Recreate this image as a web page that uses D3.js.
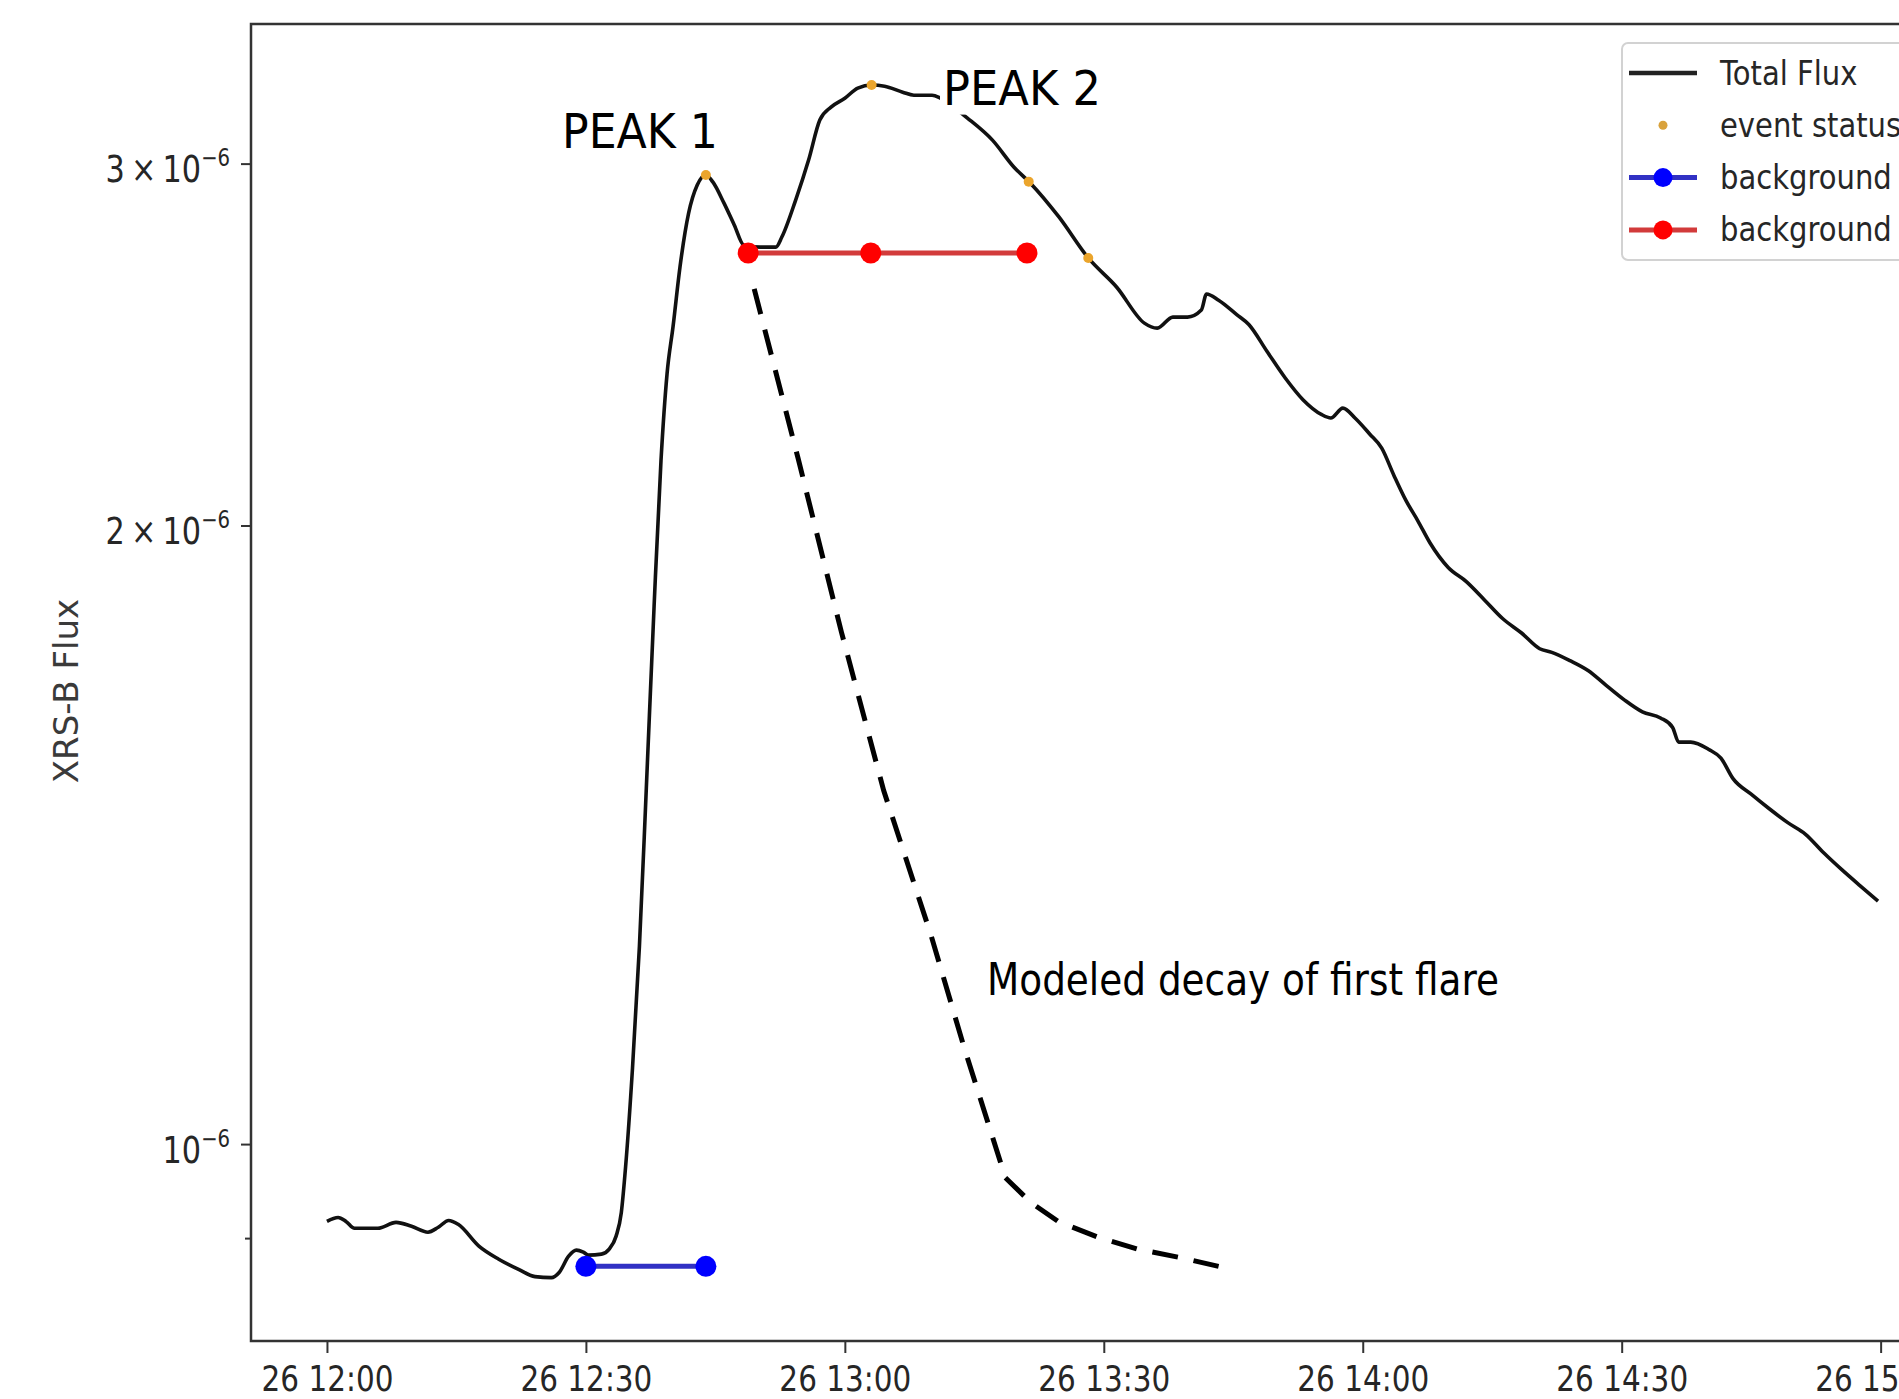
<!DOCTYPE html>
<html>
<head>
<meta charset="utf-8">
<script src="https://cdn.jsdelivr.net/npm/d3@7"></script>
<style>
body { margin: 0; background: #fff; }
svg { display: block; font-family: "DejaVu Sans", sans-serif; }
</style>
</head>
<body>
<svg id="chart" width="1899" height="1399"></svg>
<script>
// minutes after 26 12:00, flux in units of 1e-6
const fluxMinutes = [0, 1.3, 2.2, 3.2, 5.9, 8.0, 9.8, 11.7, 12.9, 14.1, 15.2, 17.6, 19.9, 22.2, 24.1, 26.0, 26.9, 28.0, 28.9, 29.7,
    30.3, 31.8, 32.7, 33.5, 34.1, 34.6, 35.4, 36.2, 37.0, 37.9, 38.7, 39.4, 40.1, 40.9, 41.9, 42.9, 43.9, 44.7, 46.0, 47.2,
    48.3, 50.2, 52.0, 52.7, 54.3, 55.8, 57.1, 58.4, 60.0, 61.5, 63.1, 64.6, 66.7, 68.0, 70.1, 71.1, 74.2, 77.1, 79.6, 81.5,
    84.8, 88.2, 91.5, 94.7, 96.2, 98.0, 99.7, 101.3, 101.9, 103.3, 105.4, 106.8, 108.9, 111.0, 113.1, 115.2, 116.3, 117.7, 119.1, 120.8,
    122.2, 123.6, 125.0, 126.4, 127.8, 129.9, 132.0, 134.1, 136.2, 138.4, 140.5, 141.9, 144.0, 146.1, 148.2, 150.3, 152.4, 154.5, 155.9, 156.6,
    158.0, 160.1, 161.5, 162.9, 165.0, 167.1, 169.2, 171.3, 173.4, 175.5, 177.6, 179.7];
const fluxValues = [0.917, 0.921, 0.917, 0.910, 0.910, 0.916, 0.912, 0.906, 0.911, 0.918, 0.914, 0.892, 0.879, 0.869, 0.862, 0.861, 0.866, 0.882, 0.888, 0.886,
    0.883, 0.884, 0.889, 0.902, 0.926, 0.975, 1.089, 1.248, 1.490, 1.827, 2.151, 2.37, 2.50, 2.672, 2.838, 2.929, 2.962, 2.939, 2.870, 2.800,
    2.738, 2.732, 2.732, 2.763, 2.880, 3.012, 3.150, 3.196, 3.228, 3.265, 3.276, 3.272, 3.250, 3.239, 3.239, 3.228, 3.157, 3.080, 2.988, 2.935,
    2.826, 2.699, 2.612, 2.509, 2.495, 2.526, 2.526, 2.546, 2.592, 2.574, 2.533, 2.505, 2.431, 2.360, 2.302, 2.265, 2.256, 2.281, 2.256, 2.216,
    2.181, 2.116, 2.057, 2.010, 1.961, 1.908, 1.878, 1.840, 1.802, 1.773, 1.742, 1.735, 1.719, 1.700, 1.672, 1.645, 1.623, 1.612, 1.595, 1.569,
    1.569, 1.556, 1.541, 1.506, 1.480, 1.456, 1.434, 1.415, 1.386, 1.360, 1.336, 1.313];

const eventMinutes = [43.9, 63.1, 81.3, 88.2];
const eventValues = [2.962, 3.276, 2.94, 2.699];

const bgBlueMinutes = [30.0, 43.9];
const bgBlueValues = [0.872, 0.872];
const bgRedMinutes = [48.8, 63.0, 81.1];
const bgRedValues = [2.714, 2.714, 2.714];

const decayMinutes = [49.5, 54.6, 59.6, 64.5, 70.0, 73.8, 78.6, 81.5, 84.7, 89.3, 93.9, 98.6, 103.3];
const decayValues = [2.607, 2.155, 1.775, 1.486, 1.263, 1.115, 0.963, 0.937, 0.917, 0.901, 0.889, 0.881, 0.872];

const xTickMinutes = [0, 30, 60, 90, 120, 150, 180];
const yTickValues = [0.9, 1, 2, 3];
const yTickMantissas = ["", "10", "2\u2009\u00d7\u200910", "3\u2009\u00d7\u200910"];
const legendLabels = ["Total Flux", "event status", "background", "background"];

const svg = d3.select("#chart");
const plot = { left: 251, top: 24, right: 1954, bottom: 1341 };
const textColor = "#262626";

const startTime = new Date(2020, 0, 26, 12, 0, 0);
const toTime = minutes => new Date(startTime.getTime() + minutes * 60000);
const toPoints = (minutes, values) => minutes.map((m, i) => [toTime(m), values[i] * 1e-6]);

const x = d3.scaleTime()
    .domain([toTime(-8.8), toTime(188.5)])
    .range([plot.left, plot.right]);
const y = d3.scaleLog()
    .domain([0.802e-6, 3.508e-6])
    .range([plot.bottom, plot.top]);

svg.append("defs").append("clipPath").attr("id", "plot-clip")
    .append("rect")
    .attr("x", plot.left).attr("y", plot.top)
    .attr("width", plot.right - plot.left).attr("height", plot.bottom - plot.top);

const lineOf = curve => d3.line().x(d => x(d[0])).y(d => y(d[1])).curve(curve);

const marks = svg.append("g").attr("clip-path", "url(#plot-clip)");

// total flux
marks.append("path")
    .datum(toPoints(fluxMinutes, fluxValues))
    .attr("d", lineOf(d3.curveMonotoneX))
    .attr("fill", "none")
    .attr("stroke", "#111")
    .attr("stroke-width", 3.6)
    .attr("stroke-linejoin", "round");

// event status
marks.selectAll(".event")
    .data(toPoints(eventMinutes, eventValues))
    .join("circle")
    .attr("class", "event")
    .attr("cx", d => x(d[0]))
    .attr("cy", d => y(d[1]))
    .attr("r", 5)
    .attr("fill", "#eba52c");

const addBackground = (points, lineColor, markerColor) => {
    marks.append("path")
        .datum(points)
        .attr("d", lineOf(d3.curveLinear))
        .attr("fill", "none")
        .attr("stroke", lineColor)
        .attr("stroke-width", 5);
    marks.selectAll(null)
        .data(points)
        .join("circle")
        .attr("cx", d => x(d[0]))
        .attr("cy", d => y(d[1]))
        .attr("r", 10.5)
        .attr("fill", markerColor);
}
addBackground(toPoints(bgBlueMinutes, bgBlueValues), "#3131c4", "#0000ff");
addBackground(toPoints(bgRedMinutes, bgRedValues), "#d23b3b", "#ff0000");

// modeled decay
marks.append("path")
    .datum(toPoints(decayMinutes, decayValues))
    .attr("d", lineOf(d3.curveLinear))
    .attr("fill", "none")
    .attr("stroke", "#000")
    .attr("stroke-width", 5)
    .attr("stroke-dasharray", "26,16");

// frame
svg.append("rect")
    .attr("x", plot.left).attr("y", plot.top)
    .attr("width", plot.right - plot.left).attr("height", plot.bottom - plot.top)
    .attr("fill", "none")
    .attr("stroke", "#333")
    .attr("stroke-width", 2.5);

// x axis
const xAxis = d3.axisBottom(x)
    .tickValues(xTickMinutes.map(toTime))
    .tickFormat(d3.timeFormat("%d %H:%M"))
    .tickSize(12)
    .tickPadding(12);
const gx = svg.append("g").attr("transform", `translate(0,${plot.bottom})`).call(xAxis);
gx.select(".domain").remove();
gx.selectAll(".tick line").attr("stroke", "#333").attr("stroke-width", 2);
gx.selectAll(".tick text")
    .attr("font-size", 36)
    .attr("font-family", "DejaVu Sans")
    .attr("fill", textColor)
    .attr("transform", "scale(0.82,1)");

// y axis
const yAxis = d3.axisLeft(y)
    .tickValues(yTickValues.map(v => v * 1e-6))
    .tickFormat(() => "")
    .tickSize(10);
const gy = svg.append("g").attr("transform", `translate(${plot.left},0)`).call(yAxis);
gy.select(".domain").remove();
gy.selectAll(".tick text").remove();
gy.selectAll(".tick line")
    .attr("stroke", "#333")
    .attr("stroke-width", 2)
    .attr("x2", (d, i) => yTickMantissas[i] ? -10 : -6);
gy.selectAll(".tick").each(function (d, i) {
    if (!yTickMantissas[i]) return;
    const label = d3.select(this).append("text")
        .attr("transform", "translate(-21,18) scale(0.82,1)")
        .attr("text-anchor", "end")
        .attr("font-size", 37)
        .attr("font-family", "DejaVu Sans")
        .attr("fill", textColor);
    label.append("tspan").text(yTickMantissas[i]);
    label.append("tspan").attr("font-size", 24).attr("dy", -16).text("\u22126");
});

svg.append("text")
    .attr("transform", "translate(78,691) rotate(-90)")
    .attr("text-anchor", "middle")
    .attr("font-size", 34)
    .attr("fill", "#3a3a3a")
    .text("XRS-B Flux");

// legend
const legend = svg.append("g");
legend.append("rect")
    .attr("x", 1622).attr("y", 43)
    .attr("width", 420).attr("height", 217)
    .attr("rx", 6)
    .attr("fill", "#fff").attr("fill-opacity", 0.85)
    .attr("stroke", "#d2d2d2").attr("stroke-width", 2);
const rows = legend.selectAll(".row")
    .data(legendLabels)
    .join("g")
    .attr("class", "row")
    .attr("transform", (d, i) => `translate(0,${73 + i * 52.3})`);
rows.each(function (d, i) {
    const row = d3.select(this);
    if (i === 0) {
        row.append("line").attr("x1", 1629).attr("x2", 1697)
            .attr("stroke", "#222").attr("stroke-width", 4.5);
    } else if (i === 1) {
        row.append("circle").attr("cx", 1663).attr("r", 4.5).attr("fill", "#d9a23c");
    } else {
        const colors = i === 2 ? ["#3131c4", "#0000ff"] : ["#d23b3b", "#ff0000"];
        row.append("line").attr("x1", 1629).attr("x2", 1697)
            .attr("stroke", colors[0]).attr("stroke-width", 5);
        row.append("circle").attr("cx", 1663).attr("r", 9.5).attr("fill", colors[1]);
    }
    row.append("text")
        .attr("transform", "translate(1720,0) scale(0.88,1)")
        .attr("dy", "0.35em")
        .attr("font-size", 33)
        .attr("fill", textColor)
        .text(d);
});

// annotations
const annotate = (label, left, baseline, size, length, backdrop) => {
    if (backdrop) {
        svg.append("rect")
            .attr("x", left - 3).attr("y", baseline - size * 0.9)
            .attr("width", length + 6).attr("height", size * 1.1)
            .attr("fill", "#fff");
    }
    svg.append("text")
        .attr("x", left).attr("y", baseline)
        .attr("font-size", size)
        .attr("textLength", length)
        .attr("lengthAdjust", "spacingAndGlyphs")
        .attr("fill", "#000")
        .text(label);
}
annotate("PEAK 1", 562, 148, 48, 156, false);
annotate("PEAK 2", 943, 105, 48, 158, true);
annotate("Modeled decay of first flare", 987, 995, 44, 512, false);
</script>
</body>
</html>
